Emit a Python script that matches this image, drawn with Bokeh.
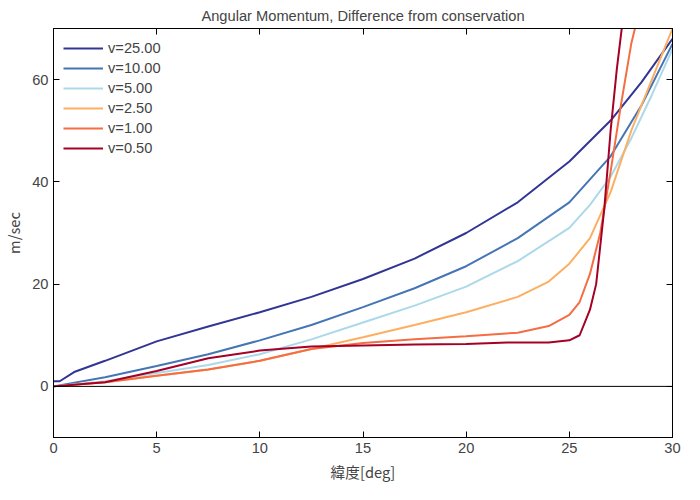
from bokeh.plotting import figure
from bokeh.models import LinearAxis, Range1d, Span, Legend, LegendItem
from bokeh.embed import file_html
from bokeh.resources import INLINE

lat_25 = [0, 0.3, 1, 2.5, 5, 7.5, 10, 12.5, 15, 17.5, 20, 22.5, 25, 27, 28.5, 30]
val_25 = [1, 1, 2.8, 5, 8.8, 11.7, 14.5, 17.5, 21, 25, 30, 36, 44, 52, 59.5, 68]
lat_10 = [0, 2.5, 5, 7.5, 10, 12.5, 15, 17.5, 20, 22.5, 25, 27, 28.5, 30]
val_10 = [0, 1.8, 4, 6.3, 9, 12, 15.5, 19.2, 23.5, 29, 36, 45, 55, 67]
lat_5 = [0, 2.5, 5, 7.5, 10, 12.5, 15, 17.5, 20, 22.5, 25, 26, 27, 28, 29, 30]
val_5 = [0, 1, 2.6, 4.2, 6.3, 9.2, 12.5, 15.8, 19.5, 24.5, 31, 35.5, 41, 48.5, 57, 66]
lat_2_5 = [0, 2.5, 5, 7.5, 10, 12.5, 15, 17.5, 20, 22.5, 24, 25, 26, 27, 28, 29, 30]
val_2_5 = [0, 0.8, 2.1, 3.3, 5, 7.3, 9.6, 12, 14.5, 17.5, 20.5, 24, 29, 38, 50, 60, 70]
lat_1 = [0, 2.5, 5, 7.5, 10, 12.5, 15, 17.5, 20, 22.5, 24, 25, 25.5, 26, 26.5, 27, 27.5, 28, 28.3]
val_1 = [0, 0.8, 2.1, 3.3, 5, 7.3, 8.5, 9.2, 9.8, 10.5, 11.8, 14, 16.5, 22, 30, 42, 55, 67, 72]
lat_0_5 = [0, 2.5, 5, 7.5, 10, 12.5, 15, 17.5, 20, 22, 24, 25, 25.5, 26, 26.3, 26.7, 27, 27.3, 27.6]
val_0_5 = [0, 0.8, 3, 5.5, 7, 7.8, 8, 8.2, 8.3, 8.6, 8.6, 9, 10, 15, 20, 35, 50, 62, 72]

series = [
    ("v=25.00", lat_25, val_25, "#313695"),
    ("v=10.00", lat_10, val_10, "#4575b4"),
    ("v=5.00", lat_5, val_5, "#abd9e9"),
    ("v=2.50", lat_2_5, val_2_5, "#fdae61"),
    ("v=1.00", lat_1, val_1, "#f46d43"),
    ("v=0.50", lat_0_5, val_0_5, "#a50026"),
]

p = figure(width=684, height=484, output_backend="svg", toolbar_location=None,
           x_range=Range1d(0, 30), y_range=Range1d(-10, 70),
           title="Angular Momentum, Difference from conservation",
           x_axis_label="緯度[deg]", y_axis_label="m/sec",
           min_border_left=10, min_border_right=12, min_border_top=10, min_border_bottom=10)
p.title.align = "center"
p.title.text_font = "Liberation Sans"
p.title.text_font_style = "normal"
p.title.text_font_size = "11pt"
p.grid.visible = False
p.outline_line_color = "black"
p.outline_line_width = 1

top = LinearAxis()
right = LinearAxis()
p.add_layout(top, "above")
p.add_layout(right, "right")
for ax in p.axis:
    ax.major_tick_in = 6
    ax.major_tick_out = 0
    ax.minor_tick_in = 0
    ax.minor_tick_out = 0
    ax.axis_line_color = "black"
    ax.major_label_text_font = "Liberation Sans"
    ax.major_label_text_font_size = "11pt"
    ax.axis_label_text_font = "Noto Sans CJK JP"
    ax.axis_label_text_font_style = "normal"
    ax.axis_label_text_font_size = "11pt"
for ax in (top, right):
    ax.major_label_text_font_size = "0pt"
    ax.major_label_standoff = 0
p.xaxis.ticker = [0, 5, 10, 15, 20, 25, 30]
p.yaxis.ticker = [0, 20, 40, 60]

p.add_layout(Span(location=0, dimension="width", line_color="black", line_width=1))

items = []
for name, xs, ys, color in series:
    r = p.line(xs, ys, line_color=color, line_width=2)
    items.append(LegendItem(label=name, renderers=[r]))
legend = Legend(items=items, location="top_left", border_line_alpha=0,
                background_fill_alpha=0, label_text_font="Liberation Sans",
                label_text_font_size="11pt", spacing=-4, glyph_width=40,
                label_height=14, padding=4, margin=6)
p.add_layout(legend)

open("out.html", "w").write(file_html(p, INLINE))
